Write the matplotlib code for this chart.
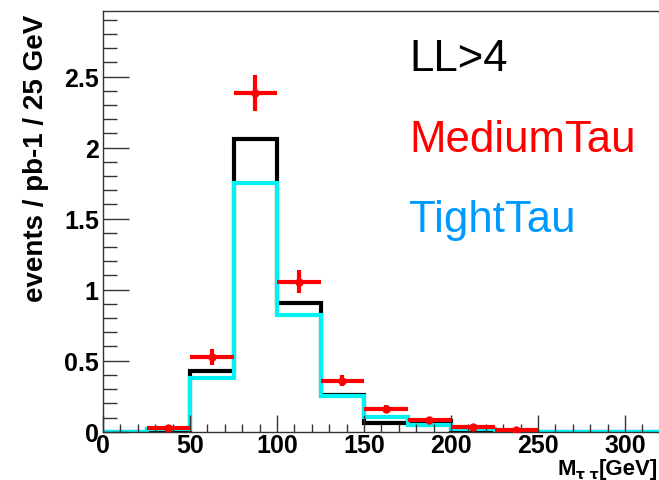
import numpy as np
import matplotlib.pyplot as plt
from matplotlib.ticker import MultipleLocator

# bin edges in M_tautau (GeV), 25 GeV bins
edges = np.arange(0, 350, 25)
ll4 = [0.0, 0.01, 0.425, 2.06, 0.905, 0.255, 0.06, 0.073, 0.012, 0.0, 0.0, 0.0, 0.0]
tight = [0.0, 0.022, 0.376, 1.75, 0.822, 0.254, 0.106, 0.047, 0.016, 0.0, 0.0, 0.0, 0.0]
medium_x = [37.5, 62.5, 87.5, 112.5, 137.5, 162.5, 187.5, 212.5, 237.5]
medium_y = [0.025, 0.525, 2.387, 1.056, 0.36, 0.16, 0.082, 0.035, 0.012]
medium_err = [0.015, 0.055, 0.127, 0.08, 0.04, 0.025, 0.018, 0.01, 0.006]

plt.rcParams['font.family'] = ['Liberation Sans', 'DejaVu Sans']

fig = plt.figure(figsize=(6.59, 4.81), dpi=100)
ax = fig.add_axes([0.1563, 0.1004, 0.845, 0.8746])

ax.stairs(ll4, edges, color='black', lw=3, baseline=None)
ax.stairs(tight, edges, color='#00f2f2', lw=3, baseline=None)
ax.errorbar(medium_x, medium_y, xerr=12.5, yerr=medium_err, fmt='o', ms=5,
            color='red', elinewidth=3, capsize=0, zorder=5)

ax.set_xlim(0, 320)
ax.set_ylim(0, 2.962)
ax.xaxis.set_major_locator(MultipleLocator(50))
ax.xaxis.set_minor_locator(MultipleLocator(10))
ax.yaxis.set_major_locator(MultipleLocator(0.5))
ax.yaxis.set_minor_locator(MultipleLocator(0.1))
ax.yaxis.set_major_formatter(plt.FuncFormatter(lambda v, p: f'{v:g}'))
ax.tick_params(which='both', direction='in', top=False, right=False,
               labelsize=18, width=1, color='#333333')
ax.tick_params(axis='y', which='major', length=19, pad=3)
ax.tick_params(axis='y', which='minor', length=10)
ax.tick_params(axis='x', which='major', length=12, pad=1)
ax.tick_params(axis='x', which='minor', length=6)
for lab in ax.get_xticklabels() + ax.get_yticklabels():
    lab.set_fontweight('bold')
for s in ax.spines.values():
    s.set_color('#333333')
    s.set_linewidth(1)

ax.set_ylabel('events / pb-1 / 25 GeV', fontsize=20, fontweight='bold')
ax.yaxis.set_label_coords(-0.097, 0.993, transform=ax.transAxes)
ax.yaxis.label.set_ha('right')

# x label: M with small tau-tau subscript, then [GeV]
xl = fig.text(0.999, 0.012, '[GeV]', ha='right', va='baseline',
              fontsize=16, fontweight='bold')
fig.canvas.draw()
bb = xl.get_window_extent().transformed(fig.transFigure.inverted())
sub = fig.text(bb.x0, 0.004, 'τ τ', ha='right', va='baseline', fontsize=10,
               fontweight='bold', family=['DejaVu Sans'])
fig.canvas.draw()
bb2 = sub.get_window_extent().transformed(fig.transFigure.inverted())
fig.text(bb2.x0, 0.012, 'M', ha='right', va='baseline', fontsize=16,
         fontweight='bold')

fig.text(0.621, 0.852, 'LL>4', fontsize=31.5, color='black', va='baseline')
fig.text(0.621, 0.684, 'MediumTau', fontsize=31.5, color='red', va='baseline')
fig.text(0.621, 0.518, 'TightTau', fontsize=31.5, color='#0099ff', va='baseline')

fig.savefig('out.png', dpi=100)
